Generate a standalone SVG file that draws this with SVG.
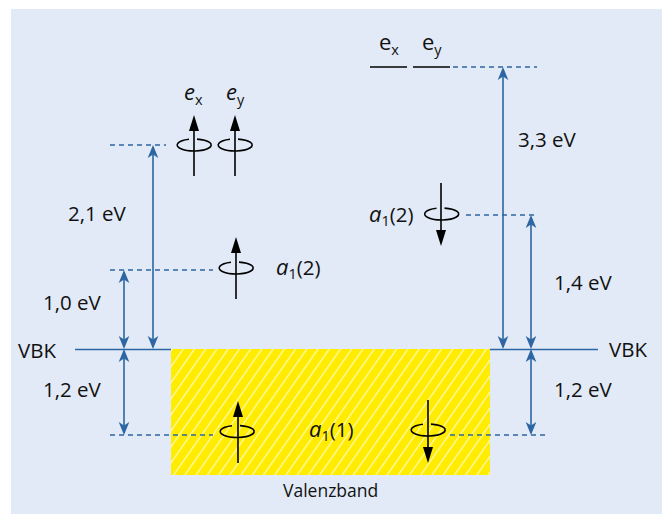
<svg xmlns="http://www.w3.org/2000/svg" width="667" height="514" viewBox="0 0 667 514">
  <style>
    text { font-family: "Open Sans", "Noto Sans", "Liberation Sans", sans-serif; fill: #111; }
    .lbl { font-size: 20.5px; }
    .it { font-style: italic; font-size: 22px; }
    .big { font-size: 22px; }
    .sub { font-size: 14.5px; font-style: normal; }
    .blue { stroke: #2d66a2; stroke-width: 1.6; fill: none; }
    .dash { stroke: #2d66a2; stroke-width: 1.3; stroke-dasharray: 5 4; fill: none; }
    .spin { stroke: #000; stroke-width: 1.6; fill: none; }
    .head { fill: #000; stroke: none; }
  </style>
  <defs>
    <marker id="ah" viewBox="-14 -6 15 12" refX="-2" refY="0" markerWidth="15" markerHeight="12" markerUnits="userSpaceOnUse" orient="auto-start-reverse">
      <path d="M0,0 L-13,-5.3 L-9.5,0 L-13,5.3 Z" fill="#2d66a2"/>
    </marker>
    <pattern id="hatch" patternUnits="userSpaceOnUse" width="9.2" height="20" patternTransform="rotate(35)">
      <rect width="9.2" height="20" fill="#ffec00"/>
      <line x1="0.7" y1="0" x2="0.7" y2="20" stroke="#ffffff" stroke-opacity="0.75" stroke-width="1.2"/>
    </pattern>
  </defs>

  <rect x="11" y="9" width="651" height="505" fill="#e1eaf6"/>

  <g id="valenzband">
    <rect x="171" y="349" width="319" height="126" fill="url(#hatch)"/>
    <text x="283" y="497" style="font-size:17.5px">Valenzband</text>
  </g>

  <g id="connectors">
    <line class="blue" x1="75" y1="349.5" x2="171" y2="349.5"/>
    <line class="blue" x1="490" y1="349.5" x2="598" y2="349.5"/>
    <line class="dash" x1="110" y1="145" x2="166" y2="145"/>
    <line class="dash" x1="110" y1="270" x2="213" y2="270"/>
    <line class="dash" x1="110" y1="435" x2="213" y2="435"/>
    <line class="dash" x1="450" y1="435" x2="545" y2="435"/>
    <line class="dash" x1="453" y1="67" x2="537" y2="67"/>
    <line class="dash" x1="466" y1="215" x2="536" y2="215"/>
    <line class="blue" x1="153" y1="147" x2="153" y2="347" marker-start="url(#ah)" marker-end="url(#ah)"/>
    <line class="blue" x1="124" y1="272" x2="124" y2="347" marker-start="url(#ah)" marker-end="url(#ah)"/>
    <line class="blue" x1="124" y1="351" x2="124" y2="433" marker-start="url(#ah)" marker-end="url(#ah)"/>
    <line class="blue" x1="503" y1="69" x2="503" y2="347" marker-start="url(#ah)" marker-end="url(#ah)"/>
    <line class="blue" x1="531" y1="217" x2="531" y2="347" marker-start="url(#ah)" marker-end="url(#ah)"/>
    <line class="blue" x1="531" y1="351" x2="531" y2="433" marker-start="url(#ah)" marker-end="url(#ah)"/>
  </g>

  <g id="labels">
    <text class="lbl" x="68" y="221">2,1 eV</text>
    <text class="lbl" x="43" y="310">1,0 eV</text>
    <text class="lbl" x="43" y="397">1,2 eV</text>
    <text class="lbl" x="518" y="147">3,3 eV</text>
    <text class="lbl" x="554" y="290">1,4 eV</text>
    <text class="lbl" x="554" y="397">1,2 eV</text>
    <text class="lbl" x="18" y="358">VBK</text>
    <text class="lbl" x="609" y="357">VBK</text>
  </g>

  <g id="ex-left">
    <path class="spin" d="M189,139.3 A17 6 0 1 0 197,139.1"/>
    <line class="spin" x1="194" y1="176" x2="194" y2="128"/>
    <path class="head" d="M194,115 L189,131 L199,131 Z"/>
    <text class="lbl it" x="184" y="100">e<tspan class="sub" dy="5">x</tspan></text>
  </g>
  <g id="ey-left">
    <path class="spin" d="M230,139.3 A17 6 0 1 0 238,139.1"/>
    <line class="spin" x1="235" y1="176" x2="235" y2="128"/>
    <path class="head" d="M235,115 L230,131 L240,131 Z"/>
    <text class="lbl it" x="226" y="100">e<tspan class="sub" dy="5">y</tspan></text>
  </g>
  <g id="a12-left">
    <path class="spin" d="M231,262.3 A17 6 0 1 0 239,262.1"/>
    <line class="spin" x1="236" y1="299" x2="236" y2="250"/>
    <path class="head" d="M236,237 L231,253 L241,253 Z"/>
    <text class="lbl" x="276" y="275"><tspan class="it">a</tspan><tspan class="sub" dy="4">1</tspan><tspan dy="-4">(2)</tspan></text>
  </g>
  <g id="ex-right">
    <line class="spin" x1="370" y1="67" x2="407" y2="67"/>
    <text class="big" x="379" y="50">e<tspan class="sub" dy="5">x</tspan></text>
  </g>
  <g id="ey-right">
    <line class="spin" x1="413" y1="67" x2="450" y2="67"/>
    <text class="big" x="422" y="50">e<tspan class="sub" dy="5">y</tspan></text>
  </g>
  <g id="a12-right">
    <path class="spin" d="M436.5,208.3 A17 6 0 1 0 444.5,208.1"/>
    <line class="spin" x1="441" y1="183" x2="441" y2="232"/>
    <path class="head" d="M441,246 L436,230 L446,230 Z"/>
    <text class="lbl" x="369" y="222"><tspan class="it">a</tspan><tspan class="sub" dy="4">1</tspan><tspan dy="-4">(2)</tspan></text>
  </g>
  <g id="a11-up">
    <path class="spin" d="M232,425.8 A17 6 0 1 0 240,425.6"/>
    <line class="spin" x1="238" y1="463" x2="238" y2="414"/>
    <path class="head" d="M238,401 L233,417 L243,417 Z"/>
  </g>
  <g id="a11-down">
    <path class="spin" d="M423,424.3 A17 6 0 1 0 431,424.1"/>
    <line class="spin" x1="428" y1="400" x2="428" y2="449"/>
    <path class="head" d="M428,463 L423,447 L433,447 Z"/>
  </g>
  <g id="a11-label">
    <text class="lbl" x="309" y="437"><tspan class="it">a</tspan><tspan class="sub" dy="4">1</tspan><tspan dy="-4">(1)</tspan></text>
  </g>
</svg>
